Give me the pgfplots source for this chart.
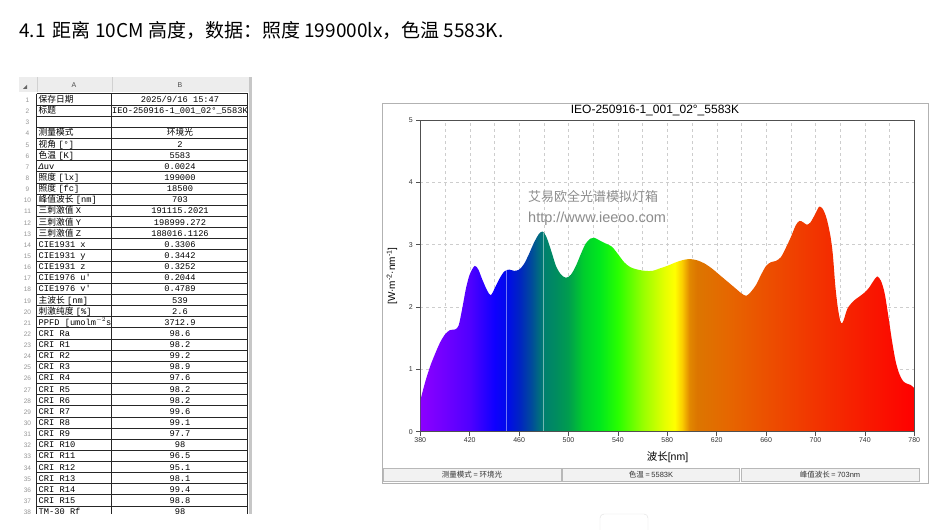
\documentclass[border=0pt]{standalone}
\usepackage{pgfplots}
\pgfplotsset{compat=1.18}
\usepackage{fontspec}
\setmainfont{Liberation Sans}
\newfontfamily\cjk{Noto Sans CJK SC}
\newfontfamily\mono{Liberation Mono}
\newfontfamily\arial{Liberation Sans}

\definecolor{axisgray}{RGB}{80,80,80}
\definecolor{gridgray}{RGB}{205,205,205}
\definecolor{rowgray}{RGB}{150,150,150}
\definecolor{wm}{RGB}{140,140,140}
\definecolor{c380}{RGB}{140,0,255}
\definecolor{c400}{RGB}{112,0,255}
\definecolor{c420}{RGB}{80,0,255}
\definecolor{c440}{RGB}{15,0,255}
\definecolor{c450}{RGB}{0,10,235}
\definecolor{c460}{RGB}{0,35,195}
\definecolor{c470}{RGB}{0,75,155}
\definecolor{c480}{RGB}{0,128,110}
\definecolor{c490}{RGB}{0,140,95}
\definecolor{c500}{RGB}{0,158,78}
\definecolor{c512}{RGB}{0,205,45}
\definecolor{c525}{RGB}{0,232,30}
\definecolor{c540}{RGB}{40,255,0}
\definecolor{c560}{RGB}{150,255,0}
\definecolor{c578}{RGB}{230,255,0}
\definecolor{c586}{RGB}{255,255,0}
\definecolor{c592}{RGB}{250,205,0}
\definecolor{c598}{RGB}{225,135,0}
\definecolor{c604}{RGB}{220,118,0}
\definecolor{c630}{RGB}{230,102,0}
\definecolor{c660}{RGB}{236,80,0}
\definecolor{c700}{RGB}{242,52,0}
\definecolor{c740}{RGB}{248,26,0}
\definecolor{c780}{RGB}{255,0,0}
% position in bp = 25 + (nm-380)/8
\pgfdeclarehorizontalshading{spectrum}{100bp}{%
color(0bp)=(c380); color(25bp)=(c380); color(27.5bp)=(c400);
color(30bp)=(c420); color(32.5bp)=(c440); color(33.75bp)=(c450);
color(35bp)=(c460); color(36.25bp)=(c470); color(37.5bp)=(c480);
color(38.75bp)=(c490); color(40bp)=(c500); color(41.5bp)=(c512);
color(43.125bp)=(c525); color(45bp)=(c540); color(47.5bp)=(c560);
color(49.75bp)=(c578); color(50.75bp)=(c586); color(51.5bp)=(c592);
color(52.25bp)=(c598); color(53bp)=(c604); color(56.25bp)=(c630);
color(60bp)=(c660); color(65bp)=(c700); color(70bp)=(c740);
color(75bp)=(c780); color(100bp)=(c780)}

\newcommand\T{\fontsize{8.7}{9}\selectfont}
\newcommand\RA[2]{\node[anchor=base west,inner sep=0pt] at (38.5,{427.5-(#1-1)*11.14}) {\T #2};}
\newcommand\RB[2]{\node[anchor=base,inner sep=0pt] at (180,{427.5-(#1-1)*11.14}) {\T #2};}

\begin{document}
\begin{tikzpicture}[x=1pt,y=1pt]
\path[use as bounding box,fill=white] (0,0) rectangle (946,530);

% heading
\node[anchor=base west,inner sep=0pt] at (19,492.7) {\cjk\fontsize{19}{21}\selectfont 4.1\, 距离 10CM 高度，数据：照度 199000lx，色温 5583K.};

% ---------------- spreadsheet ----------------
\begin{scope}
\clip (19,16) rectangle (254,453.3);
\fill[black!7] (19,437.7) rectangle (249,453.3);
\draw[black!18] (36.7,437.7) -- (36.7,453.3) (111.7,437.7) -- (111.7,453.3);
\fill[black!60] (23,441) -- (27,445) -- (27,441) -- cycle;
\node[inner sep=0pt,text=black!70] at (74,445) {\arial\fontsize{7}{8}\selectfont A};
\node[inner sep=0pt,text=black!70] at (180,445) {\arial\fontsize{7}{8}\selectfont B};
\fill[black!22] (249.3,16) rectangle (252.3,453.3);
\foreach \k in {0,...,38} \draw[black!85,line width=0.5pt] (36.7,{436.3-\k*11.14}) -- (247.7,{436.3-\k*11.14});
\draw[black!85,line width=0.5pt] (36.7,436.3) -- (36.7,16) (111.7,436.3) -- (111.7,16) (247.7,436.3) -- (247.7,16);
\foreach \n in {1,...,38} \node[anchor=base,inner sep=0pt,text=rowgray] at (27.5,{427.5-(\n-1)*11.14}) {\arial\fontsize{6.5}{7}\selectfont \n};
\begin{scope}
\clip (37,16) rectangle (111.3,437);
\RA{1}{\cjk 保存日期}
\RA{2}{\cjk 标题}
\RA{4}{\cjk 测量模式}
\RA{5}{{\cjk 视角} \mono[°]}
\RA{6}{{\cjk 色温} \mono[K]}
\RA{7}{\mono\itshape Δ\upshape uv}
\RA{8}{{\cjk 照度} \mono[lx]}
\RA{9}{{\cjk 照度} \mono[fc]}
\RA{10}{{\cjk 峰值波长} \mono[nm]}
\RA{11}{{\cjk 三刺激值} \mono X}
\RA{12}{{\cjk 三刺激值} \mono Y}
\RA{13}{{\cjk 三刺激值} \mono Z}
\RA{14}{\mono CIE1931 x}
\RA{15}{\mono CIE1931 y}
\RA{16}{\mono CIE1931 z}
\RA{17}{\mono CIE1976 u'}
\RA{18}{\mono CIE1976 v'}
\RA{19}{{\cjk 主波长} \mono[nm]}
\RA{20}{{\cjk 刺激纯度} \mono[\%]}
\RA{21}{\mono PPFD [umolm$^{-2}$s$^{-1}$]}
\RA{22}{\mono CRI Ra}
\RA{23}{\mono CRI R1}
\RA{24}{\mono CRI R2}
\RA{25}{\mono CRI R3}
\RA{26}{\mono CRI R4}
\RA{27}{\mono CRI R5}
\RA{28}{\mono CRI R6}
\RA{29}{\mono CRI R7}
\RA{30}{\mono CRI R8}
\RA{31}{\mono CRI R9}
\RA{32}{\mono CRI R10}
\RA{33}{\mono CRI R11}
\RA{34}{\mono CRI R12}
\RA{35}{\mono CRI R13}
\RA{36}{\mono CRI R14}
\RA{37}{\mono CRI R15}
\RA{38}{\mono TM-30 Rf}
\end{scope}
\RB{1}{\mono 2025/9/16 15:47}
\RB{2}{\mono IEO-250916-1\_001\_02°\_5583K}
\RB{4}{\cjk 环境光}
\RB{5}{\mono 2}
\RB{6}{\mono 5583}
\RB{7}{\mono 0.0024}
\RB{8}{\mono 199000}
\RB{9}{\mono 18500}
\RB{10}{\mono 703}
\RB{11}{\mono 191115.2021}
\RB{12}{\mono 198999.272}
\RB{13}{\mono 188016.1126}
\RB{14}{\mono 0.3306}
\RB{15}{\mono 0.3442}
\RB{16}{\mono 0.3252}
\RB{17}{\mono 0.2044}
\RB{18}{\mono 0.4789}
\RB{19}{\mono 539}
\RB{20}{\mono 2.6}
\RB{21}{\mono 3712.9}
\RB{22}{\mono 98.6}
\RB{23}{\mono 98.2}
\RB{24}{\mono 99.2}
\RB{25}{\mono 98.9}
\RB{26}{\mono 97.6}
\RB{27}{\mono 98.2}
\RB{28}{\mono 98.2}
\RB{29}{\mono 99.6}
\RB{30}{\mono 99.1}
\RB{31}{\mono 97.7}
\RB{32}{\mono 98}
\RB{33}{\mono 96.5}
\RB{34}{\mono 95.1}
\RB{35}{\mono 98.1}
\RB{36}{\mono 99.4}
\RB{37}{\mono 98.8}
\RB{38}{\mono 98}
\end{scope}

% ---------------- chart panel ----------------
\draw[black!30,line width=0.8pt] (382,47) rectangle (928,427);
\foreach \a/\b in {383/561,562.5/739.5,741/919}
  \draw[black!28,fill=black!5] (\a,48.5) rectangle (\b,61.5);
\node[inner sep=0pt,text=black!80] at (472,55) {\cjk\fontsize{7.5}{8}\selectfont 测量模式 = 环境光};
\node[inner sep=0pt,text=black!80] at (651,55) {{\cjk\fontsize{7.5}{8}\selectfont 色温 = }\arial\fontsize{7.5}{8}\selectfont 5583K};
\node[inner sep=0pt,text=black!80] at (830,55) {{\cjk\fontsize{7.5}{8}\selectfont 峰值波长 = }\arial\fontsize{7.5}{8}\selectfont 703nm};

\begin{axis}[
  at={(420.3pt,98.3pt)}, anchor=south west,
  scale only axis, width=494pt, height=311.7pt,
  xmin=380, xmax=780, ymin=0, ymax=5,
  xtick={380,420,...,780}, ytick={0,1,...,5},
  minor xtick={400,440,...,760},
  xmajorgrids, xminorgrids, ymajorgrids,
  grid style={dashed, gridgray, line width=0.4pt},
  minor grid style={dashed, gridgray, line width=0.4pt},
  tick align=outside, xtick pos=bottom, ytick pos=left,
  major tick length=4pt, minor tick length=0pt,
  axis line style={axisgray, line width=0.7pt},
  tick style={axisgray, line width=0.6pt},
  ticklabel style={font=\arial\fontsize{7}{8}\selectfont, text=black!80},
  /pgf/number format/assume math mode=true,
  xticklabel style={yshift=1.5pt},
  clip=true,
]
\addplot[draw=none, shading=spectrum, smooth, tension=0.5, mark=none] coordinates {
(380,0.50) (384,0.80) (388,1.05) (392,1.25) (396,1.43) (400,1.56) (404,1.63)
(408,1.64) (411,1.70) (414,1.98) (417,2.30) (420,2.52) (424,2.66) (427,2.60)
(430,2.45) (434,2.27) (437,2.19) (440,2.29) (444,2.45) (448,2.57) (452,2.60)
(456,2.58) (460,2.60) (464,2.69) (468,2.85) (472,3.03) (476,3.17) (479,3.21)
(482,3.13) (486,2.90) (490,2.65) (494,2.52) (498,2.47) (502,2.52) (506,2.66)
(510,2.85) (514,3.02) (518,3.10) (521,3.11) (525,3.07) (530,3.02) (535,2.97)
(540,2.85) (545,2.72) (550,2.64) (556,2.60) (562,2.58) (568,2.58) (574,2.62)
(580,2.66) (586,2.71) (592,2.75) (598,2.77) (604,2.75) (610,2.70) (616,2.62)
(622,2.52) (628,2.42) (634,2.32) (640,2.22) (644,2.18) (648,2.25) (652,2.36)
(656,2.52) (660,2.66) (664,2.72) (668,2.74) (672,2.80) (676,2.95) (680,3.12)
(684,3.31) (687,3.38) (690,3.36) (693,3.32) (696,3.36) (700,3.50) (703,3.61)
(706,3.57) (709,3.42) (712,3.15) (714,2.85) (716,2.35) (718,2.00) (720,1.78)
(721.5,1.74) (723,1.80) (726,1.98) (731,2.10) (735,2.16) (739,2.22) (743,2.30)
(747,2.42) (750,2.49) (753,2.42) (756,2.22) (759,1.85) (762,1.45) (765,1.12)
(768,0.92) (771,0.81) (774,0.77) (777,0.75) (780,0.70)
} \closedcycle;
\addplot[white, opacity=0.45, line width=0.7pt, mark=none] coordinates {(450,0) (450,2.59)};
\addplot[white, opacity=0.45, line width=0.7pt, mark=none] coordinates {(480,0) (480,3.19)};
\draw[axisgray, line width=0.7pt] (rel axis cs:0,0) rectangle (rel axis cs:1,1);
\end{axis}

% titles and labels
\node[inner sep=0pt] at (655,419.3) {\arial\fontsize{12}{13}\selectfont IEO-250916-1\_001\_02°\_5583K};
\node[inner sep=0pt] at (667.5,73.2) {{\cjk\fontsize{10.5}{11}\selectfont 波长}\arial\fontsize{10.5}{11}\selectfont [nm]};
\node[inner sep=0pt,rotate=90] at (392,254) {\arial\fontsize{10}{11}\selectfont [W·m\textsuperscript{-2}·nm\textsuperscript{-1}]};
\node[anchor=west,inner sep=0pt,text=wm] at (528,333.3) {\cjk\fontsize{13}{14}\selectfont 艾易欧全光谱模拟灯箱};
\node[anchor=west,inner sep=0pt,text=wm] at (528,311) {\arial\fontsize{14.5}{15}\selectfont http://www.ieeoo.com};
\draw[black!12,rounded corners=4pt] (600,-5) rectangle (648,16);
\end{tikzpicture}
\end{document}
